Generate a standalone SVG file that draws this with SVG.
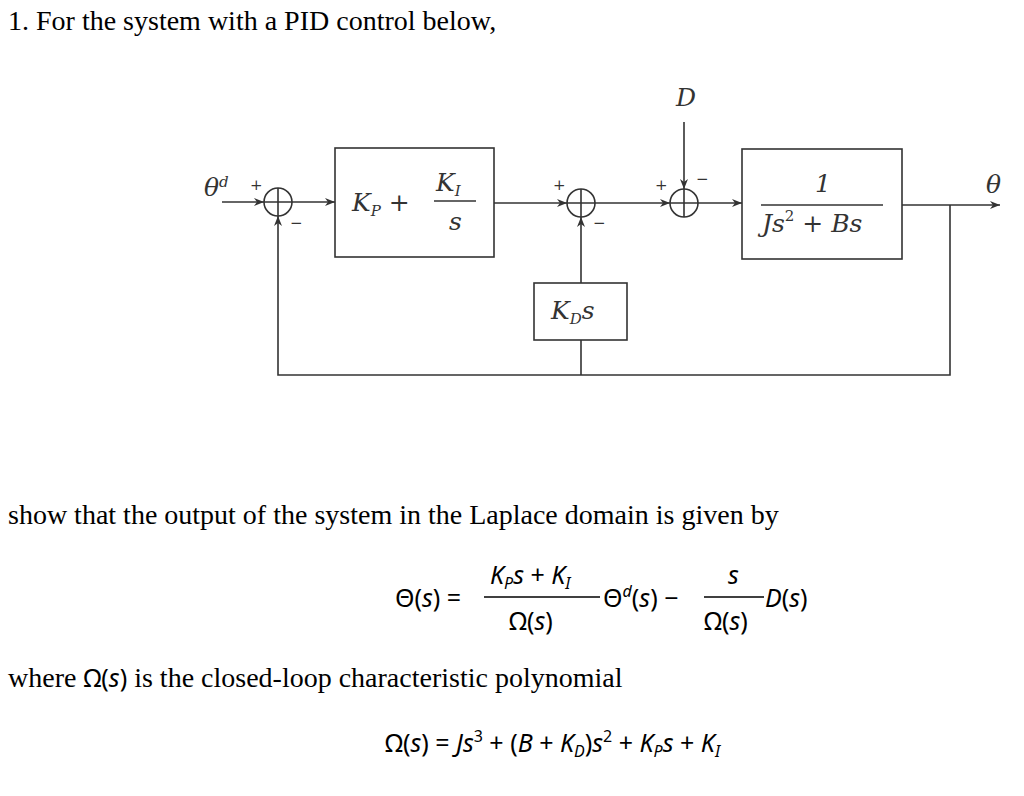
<svg xmlns="http://www.w3.org/2000/svg" width="1024" height="796" viewBox="0 0 1024 796">
<defs>
<marker id="ar" markerWidth="10" markerHeight="8" refX="10" refY="4" orient="auto" markerUnits="userSpaceOnUse"><path d="M0,0 L10,4 L0,8 L3,4 z" fill="#333"/></marker>
<style>
.ln{stroke:#333;stroke-width:1.6;fill:none}
.bx{stroke:#333;stroke-width:1.6;fill:#fff}
.t{font-family:"Liberation Serif",serif;font-size:28px;fill:#000}
.m{font-family:"DejaVu Serif","Liberation Serif",serif;font-style:italic;font-size:25px;fill:#333}
.s{font-family:"DejaVu Serif",serif;font-size:15px;fill:#333}
.eq{font-family:"Noto Sans","DejaVu Sans",sans-serif;font-size:25px;fill:#000}
</style>
</defs>
<rect width="1024" height="796" fill="#fff"/>
<text class="t" x="8" y="30">1. For the system with a PID control below,</text>
<g id="connectors">
<line class="ln" x1="222" y1="202" x2="264" y2="202" marker-end="url(#ar)"/>
<line class="ln" x1="292" y1="202" x2="335" y2="202" marker-end="url(#ar)"/>
<line class="ln" x1="494" y1="203" x2="567" y2="203" marker-end="url(#ar)"/>
<line class="ln" x1="595" y1="203" x2="670" y2="203" marker-end="url(#ar)"/>
<line class="ln" x1="698" y1="203" x2="742" y2="203" marker-end="url(#ar)"/>
<line class="ln" x1="902" y1="205" x2="1000" y2="205" marker-end="url(#ar)"/>
<line class="ln" x1="684" y1="122" x2="684" y2="189" marker-end="url(#ar)"/>
<polyline class="ln" points="950,205 950,375 278,375 278,216" marker-end="url(#ar)"/>
<line class="ln" x1="581" y1="375" x2="581" y2="340"/>
<line class="ln" x1="581" y1="283" x2="581" y2="217" marker-end="url(#ar)"/>
</g>
<g id="sum1"><circle class="bx" cx="278" cy="202" r="14"/><path class="ln" d="M264,202H292M278,188V216"/><text class="s" x="250" y="190">+</text><text class="s" x="290" y="228">−</text></g>
<g id="sum2"><circle class="bx" cx="581" cy="203" r="14"/><path class="ln" d="M567,203H595M581,189V217"/><text class="s" x="553" y="190">+</text><text class="s" x="593" y="228">−</text></g>
<g id="sum3"><circle class="bx" cx="684" cy="203" r="14"/><path class="ln" d="M670,203H698M684,189V217"/><text class="s" x="655" y="190">+</text><text class="s" x="696" y="184">−</text></g>
<g id="pi"><rect class="bx" x="335" y="148" width="159" height="109"/>
<text class="m" x="352" y="211">K<tspan font-size="15" dy="5">P</tspan><tspan dy="-5" font-style="normal"> +</tspan></text>
<text class="m" x="436" y="191">K<tspan font-size="15" dy="5">I</tspan></text>
<line class="ln" x1="434" y1="201" x2="476" y2="201"/>
<text class="m" x="449" y="230">s</text></g>
<g id="plant"><rect class="bx" x="742" y="149" width="160" height="110"/>
<text class="m" x="815" y="192" font-style="normal">1</text>
<line class="ln" x1="761" y1="205" x2="883" y2="205"/>
<text class="m" x="762" y="232">Js<tspan font-size="15" dy="-11" font-style="normal">2</tspan><tspan dy="11" font-style="normal"> + </tspan>Bs</text></g>
<g id="kd"><rect class="bx" x="534" y="283" width="93" height="57"/>
<text class="m" x="551" y="319">K<tspan font-size="15" dy="5">D</tspan><tspan dy="-5">s</tspan></text></g>
<text class="m" x="204" y="196">θ<tspan font-size="15" dy="-9">d</tspan></text>
<text class="m" x="676" y="106">D</text>
<text class="m" x="986" y="193">θ</text>
<text class="t" x="8" y="524">show that the output of the system in the Laplace domain is given by</text>
<g class="eq">
<text x="395" y="607">Θ(<tspan font-style="italic">s</tspan>) =</text>
<text x="490" y="584"><tspan font-style="italic">K</tspan><tspan font-size="16" font-style="italic" dy="5">P</tspan><tspan dy="-5" font-style="italic">s</tspan> + <tspan font-style="italic">K</tspan><tspan font-size="16" font-style="italic" dy="5">I</tspan></text>
<line x1="484" y1="597" x2="600" y2="597" stroke="#000" stroke-width="1.4"/>
<text x="509" y="630">Ω(<tspan font-style="italic">s</tspan>)</text>
<text x="603" y="607">Θ<tspan font-size="16" dy="-10" font-style="italic">d</tspan><tspan dy="10">(</tspan><tspan font-style="italic">s</tspan>) −</text>
<text x="728" y="584" font-style="italic">s</text>
<line x1="704" y1="597" x2="764" y2="597" stroke="#000" stroke-width="1.4"/>
<text x="704" y="630">Ω(<tspan font-style="italic">s</tspan>)</text>
<text x="765" y="607"><tspan font-style="italic">D</tspan>(<tspan font-style="italic">s</tspan>)</text>
</g>
<text class="t" x="8" y="687">where <tspan font-family="Noto Sans,sans-serif" font-size="25">Ω(<tspan font-style="italic">s</tspan>)</tspan> is the closed-loop characteristic polynomial</text>
<text class="eq" x="385" y="752">Ω(<tspan font-style="italic">s</tspan>) = <tspan font-style="italic">Js</tspan><tspan font-size="16" dy="-10">3</tspan><tspan dy="10"> + (</tspan><tspan font-style="italic">B</tspan> + <tspan font-style="italic">K</tspan><tspan font-size="16" font-style="italic" dy="5">D</tspan><tspan dy="-5">)</tspan><tspan font-style="italic">s</tspan><tspan font-size="16" dy="-10">2</tspan><tspan dy="10"> + </tspan><tspan font-style="italic">K</tspan><tspan font-size="16" font-style="italic" dy="5">P</tspan><tspan dy="-5" font-style="italic">s</tspan> + <tspan font-style="italic">K</tspan><tspan font-size="16" font-style="italic" dy="5">I</tspan></text>
</svg>
